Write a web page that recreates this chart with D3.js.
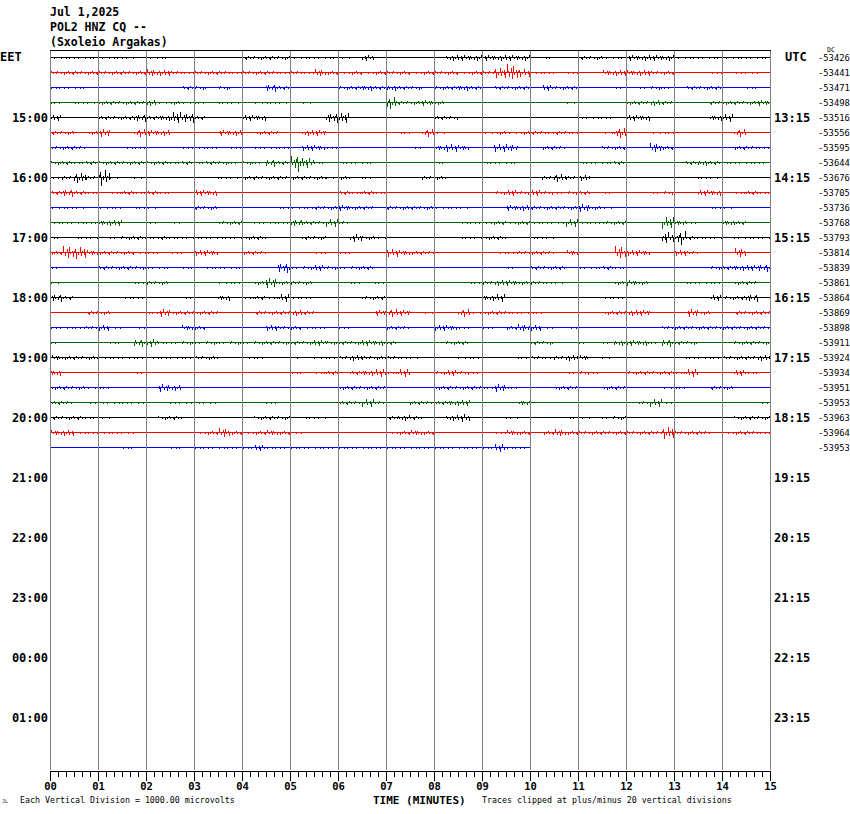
<!DOCTYPE html>
<html><head><meta charset="utf-8">
<script src="https://cdn.jsdelivr.net/npm/d3@7"></script>
<style>body{margin:0;background:#fff}svg{display:block}</style>
</head><body><svg id="c" width="850" height="814"></svg>
<script>
// ---------------- data ----------------
const headerLines = ["Jul 1,2025", "POL2 HNZ CQ --", "(Sxoleio Argakas)"];
const leftLabels = ["EET","15:00","16:00","17:00","18:00","19:00","20:00","21:00","22:00","23:00","00:00","01:00"];
const rightLabels = ["UTC","13:15","14:15","15:15","16:15","17:15","18:15","19:15","20:15","21:15","22:15","23:15"];
const dcOffsets = [-53426,-53441,-53471,-53498,-53516,-53556,-53595,-53644,-53676,-53705,-53736,-53768,-53793,
  -53814,-53839,-53861,-53864,-53869,-53898,-53911,-53924,-53934,-53951,-53953,-53963,-53964,-53953];
const traceColors = ["#000000","#ff0000","#0000ff","#006400"];
const minuteTicks = ["00","01","02","03","04","05","06","07","08","09","10","11","12","13","14","15"];
const totalRows = 48;          // 12 hours of 15-minute lines
const minutesPerRow = 15;
// activity level (max excursion, px) per 15-second bin, one string per 15-minute line
const traceLevels = [
 "1111 111 0 11 000000 2222 1 1111 0 3 000000 333 3333 0 1 00 22 11 3333 1111 1111",
 "22222222 43 2122212221 21421212221222122 594 1101 00 333322 00010110",
 "111 00000000 22 0 2 000 42 0 000 2232322 0 2232 0222 0 322 000 1 012 1 0 222 0010",
 "10 11 2222 31 21 1011011 1010 00000 6 2232 000000 00001 0000 2232 000 22223",
 "30 00 222 42 3652 000 33 00000 55 0000000 22 0000000000 111 0 33 00000 3 4 000",
 "22 024 00 4 33 0000 33 022 00 33 000000 1 04 1 000 1212 2121 00 15 00 11 00000 4 00",
 "222 000 11 000 11 1 0 1 0111 0 33 1 0000 0 010 343 00 44 00 22 000 22 00 52 00000 221",
 "22122222221212212142 95 10 111 00000 1 000 111 00000 1112 00000 232 1111",
 "1252 81 010 00000 11 2222 22212 01 0000 22 00000000 2423 000000000 11 0000",
 "242 10 12121 00 33 0000000000 2121 000000000 232 321 22 01 000 12 00 33 0121",
 "111011 011 000 22 00000 1 11223 22 0 2222 111 000 33 22224 21 00000000 11 000",
 "1111 33 00 1010 00 22 0 111 42242 000000000 11 1212 11141122 000 631 00 3 2 00",
 "10 11 0 122 1211 1111 22 000 22 00 4 2 1 000000 11 22 00 110 00000000 67 211 0111",
 "2763 222 11010 33 00 22 0000 101 000 4322 00000 112 22 03 000 7 33 00 32 00 05 00",
 "1 000 22221 1010 111 000 51 2321 22 000000000001 0 222 01121 0000000 22334",
 "10000001 22 000 0110 252 22 000 1010 000000 12332 21 10000 232 000 11 10 22 0",
 "42 0000 11 000 1 00 3 0 1214 11 0000 22 00000000 34 00000000 11 0000000 3 224 0",
 "000 22 000 14 22 22 000 222 32 00000 343 01 00 41 22 11 10 0000 223 3 000 42 00 222",
 "1112 3 101 000 32 00000 32 21 101 000 22 00 33 1010 24 3101 0000000 22 2222222",
 "1 0000 104 41 121212 1222 22322 2332 0000 22 00000 22 00 1 01 333 1 4 22 000 222",
 "322 211 11 1111 22 00 11 00 10 112 322211 000 11 000 12 123 3 01 000000 111 2223",
 "30000001000000000000 101 2 0 234 14 00 232 100 00000 121 0 022221 4 000 3 10",
 "222 11 0000 43 0000000000000 2222 0000 2222 14 1 000 22 00 22 000 11 00 22 000",
 "22 011 111 00 11 11 000010 0000 2242 00 22 233 0000 3 000000000 241 0000000 1",
 "222 11 0000 22 000000 222 01 1 00000 232 00 34 000 1 0000 11 0 12 000000000 222",
 "33 11 111 00000 12 521 232 1 000000 01 232 00000 132 02 42 2222 222 6 222 0 1221",
 "000000 1 00010 111113 1111111111111111111 4 11"
];
// fixed waveform shape multipliers (up / down) repeated along each line
const spikeUp   = [0,1,0,0.3,0,0.6,0,0,1,0.2,0,0,0.5,0,0.8,0,0,0.3,0,0.4,0.7,0,0,0.2];
const spikeDown = [0,0,0.5,0,0,0.3,0.9,0,0,0,0.4,0,0,0.7,0,0.2,0,0,0.6,0,0,1,0,0.3];

// ---------------- chart ----------------
const svg = d3.select("#c");
const mono = "'DejaVu Sans Mono', monospace";
const x = d3.scaleLinear().domain([0, minutesPerRow]).range([50, 770]);
const y = d3.scaleLinear().domain([0, totalRows]).range([57, 777]);
const binsPerMinute = 4;

// header
svg.selectAll("text.hdr").data(headerLines).enter().append("text")
  .attr("x", 50).attr("y", (d,i) => 16 + i*15)
  .attr("font-family", mono).attr("font-weight", "bold").attr("font-size", "11.5px")
  .text(d => d);

// traces
const traces = svg.append("g").attr("shape-rendering", "crispEdges");
traceLevels.forEach((str, r) => {
  const lv = str.replace(/\s+/g, "").split("").map(Number);
  const base = Math.round(y(r)) + 0.5;
  const x0 = Math.round(x(0));
  const x1 = Math.round(x(lv.length / binsPerMinute));
  let d = `M${x0},${base}`;
  for (let px = x0; px < x1; px++) {
    const b = Math.floor(x.invert(px + 0.5) * binsPerMinute);
    const L = lv[b] || 0;
    if (!L) continue;
    const k = (px + r * 5) % spikeUp.length;
    const up = Math.round(L * spikeUp[k]);
    const dn = Math.round(L * spikeDown[k]);
    if (up || dn) {
      const xp = px + 0.5;
      d += `L${xp},${base}L${xp},${base - up}L${xp},${base + dn}L${xp},${base}`;
    }
  }
  d += `L${x1},${base}`;
  traces.append("path").attr("d", d).attr("fill", "none")
    .attr("stroke", traceColors[r % 4]).attr("stroke-width", 1);
});

// grid
const grid = svg.append("g").attr("shape-rendering", "crispEdges");
grid.selectAll("line").data(d3.range(0, 16)).enter().append("line")
  .attr("x1", d => Math.round(x(d)) + 0.5).attr("x2", d => Math.round(x(d)) + 0.5)
  .attr("y1", 50).attr("y2", 770).attr("stroke", "#808080");
grid.append("line").attr("x1", 50).attr("x2", 771).attr("y1", 50.5).attr("y2", 50.5).attr("stroke", "#000");

// axis
const minor = d3.axisBottom(x).tickValues(d3.range(0, 90.5).map(i => i / 6))
  .tickSize(6).tickSizeOuter(0).tickFormat("");
const major = d3.axisBottom(x).tickValues(d3.range(0, 16))
  .tickSize(10).tickSizeOuter(0).tickFormat(i => minuteTicks[i]);
const gMinor = svg.append("g").attr("transform", "translate(0,770.5)").call(minor);
const gMajor = svg.append("g").attr("transform", "translate(0,770.5)").call(major);
[gMinor, gMajor].forEach(g => {
  g.attr("shape-rendering", "crispEdges");
  g.selectAll("path,line").attr("stroke", "#000");
});
gMajor.selectAll("text").attr("font-family", mono).attr("font-weight", "bold")
  .attr("font-size", "10.5px").attr("fill", "#000").attr("y", 12);

// hour labels
const lab = svg.append("g").attr("font-family", mono).attr("font-weight", "bold").attr("font-size", "12px");
leftLabels.forEach((t, i) => {
  const base = Math.round(y(i * 4));
  if (i === 0) lab.append("text").attr("x", 0).attr("y", base + 4).text(t);
  else lab.append("text").attr("x", 48).attr("y", base + 5).attr("text-anchor", "end").text(t);
});
rightLabels.forEach((t, i) => {
  const base = Math.round(y(i * 4));
  lab.append("text").attr("x", i === 0 ? 785 : 774).attr("y", base + (i === 0 ? 4 : 5)).text(t);
});

// DC offsets
svg.selectAll("text.dc").data(dcOffsets).enter().append("text")
  .attr("x", 818).attr("y", (d,i) => Math.round(y(i)) + 3.5)
  .attr("font-family", mono).attr("font-size", "8.8px").text(d => d);
svg.append("text").attr("x", 827).attr("y", 52).attr("font-family", mono)
  .attr("font-size", "6.5px").text("DC");

// footer
svg.append("text").attr("x", 373).attr("y", 804).attr("font-family", mono)
  .attr("font-weight", "bold").attr("font-size", "11px").text("TIME (MINUTES)");
svg.append("text").attr("x", 20).attr("y", 803).attr("font-family", mono)
  .attr("font-size", "8.3px").text("Each Vertical Division = 1000.00 microvolts");
svg.append("text").attr("x", 482).attr("y", 803).attr("font-family", mono)
  .attr("font-size", "8.3px").text("Traces clipped at plus/minus 20 vertical divisions");
svg.append("text").attr("x", 2).attr("y", 803).attr("font-family", mono)
  .attr("font-size", "5px").text("JL");
</script></body></html>
